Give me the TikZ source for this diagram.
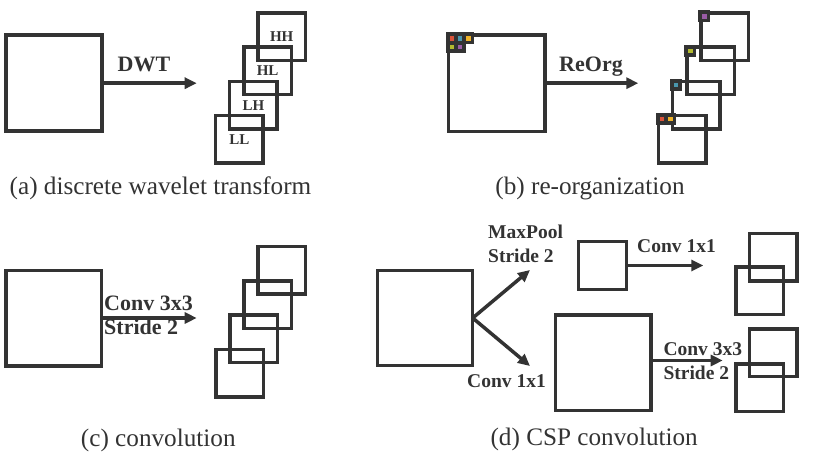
\documentclass[tikz,border=0pt]{standalone}
\usepackage{fontspec}
\setmainfont{Liberation Serif}
\usetikzlibrary{arrows.meta,calc}
\definecolor{ink}{HTML}{333333}
\definecolor{dred}{HTML}{D9533A}
\definecolor{dteal}{HTML}{4A97AE}
\definecolor{dyel}{HTML}{F0B429}
\definecolor{dolive}{HTML}{B3BB2E}
\definecolor{dpurp}{HTML}{9A5CA6}
\newcommand\dotbg[3]{\fill[ink] ($(#1)+(-2.5+8.3*#2,-2.5+8.3*#3)$) rectangle +(12,12);}
\newcommand\dotfg[4]{\fill[#4] ($(#1)+(1.3+8.3*#2,1.3+8.3*#3)$) rectangle +(4.4,4.4);}
\begin{document}
\begin{tikzpicture}[x=1pt,y=-1pt,
  sq/.style={draw=ink, line width=3.5pt, rectangle, inner sep=0pt, outer sep=0pt, minimum size=#1},
  arr/.style={draw=ink, line width=3.5pt, -{Triangle[length=12pt,width=11pt]}},
  lab/.style={font=\fontsize{22}{24}\selectfont\bfseries, text=ink, inner sep=0pt},
  labs/.style={font=\fontsize{19.5}{24}\selectfont\bfseries, text=ink, inner sep=0pt},
  hl/.style={font=\fontsize{15}{18}\selectfont\bfseries, text=ink, inner sep=0pt},
  captext/.style={font=\fontsize{25.2}{30}\selectfont, text=ink, inner sep=0pt}]
\useasboundingbox (0,0) rectangle (814,457);
% ---------- (a)
\node[sq=96] (a0) at (53.8,83.2) {};
\node[sq=47.5] (a1) at (239.3,139.5) {};
\node[sq=47.5] (a2) at (253.4,105.2) {};
\node[sq=47.5] (a3) at (267.6,71.0) {};
\node[sq=47.5] (a4) at (281.7,36.7) {};
\node[hl] (tll) at (a1) {LL};
\node[hl] (tlh) at (a2) {LH};
\node[hl] (thl) at (a3) {HL};
\node[hl] (thh) at (a4) {HH};
\coordinate (ta) at (196.7,83.2);
\draw[arr] (a0.east) -- (ta);
\node[lab, anchor=base] (tdwt) at (144,71.7) {DWT};
\node[captext, anchor=base] (capa) at (160.5,195) {(a) discrete wavelet transform};
% ---------- (b)
\node[sq=96.5] (b0) at (496.5,83.2) {};
\node[sq=47.5] (b1) at (682.3,139.5) {};
\node[sq=47.5] (b2) at (696.4,105.2) {};
\node[sq=47.5] (b3) at (710.6,71.0) {};
\node[sq=47.5] (b4) at (724.7,36.7) {};
\dotbg{b0.north west}{0}{0}\dotbg{b0.north west}{1}{0}\dotbg{b0.north west}{2}{0}
\dotbg{b0.north west}{0}{1}\dotbg{b0.north west}{1}{1}
\dotfg{b0.north west}{0}{0}{dred}\dotfg{b0.north west}{1}{0}{dteal}\dotfg{b0.north west}{2}{0}{dyel}
\dotfg{b0.north west}{0}{1}{dolive}\dotfg{b0.north west}{1}{1}{dpurp}
\dotbg{b1.north west}{0}{0}\dotbg{b1.north west}{1}{0}
\dotfg{b1.north west}{0}{0}{dred}\dotfg{b1.north west}{1}{0}{dyel}
\dotbg{b2.north west}{0}{0}\dotfg{b2.north west}{0}{0}{dteal}
\dotbg{b3.north west}{0}{0}\dotfg{b3.north west}{0}{0}{dolive}
\dotbg{b4.north west}{0}{0}\dotfg{b4.north west}{0}{0}{dpurp}
\coordinate (tb) at (638.3,83.2);
\draw[arr] (b0.east) -- (tb);
\node[lab, anchor=base] (treorg) at (591,71.7) {ReOrg};
\node[captext, anchor=base] (capb) at (590,195) {(b) re-organization};
% ---------- (c)
\node[sq=95.5] (c0) at (53.8,318) {};
\node[sq=47.5] (c1) at (239.5,373) {};
\node[sq=47.5] (c2) at (253.6,338.8) {};
\node[sq=47.5] (c3) at (267.7,304.6) {};
\node[sq=47.5] (c4) at (281.8,270.4) {};
\coordinate (tc) at (196.7,318);
\draw[arr] (c0.east) -- (tc);
\node[lab, anchor=base west] (tc1) at (104,310) {Conv 3x3};
\node[lab, anchor=base west] (tc2) at (104,334) {Stride 2};
\node[captext, anchor=base] (capc) at (158.3,446.5) {(c) convolution};
% ---------- (d)
\node[sq=95] (d0) at (425.2,318) {};
\node[sq=48] (ds) at (602.5,265.5) {};
\node[sq=95.5] (dl) at (603,362.5) {};
\node[sq=47.5] (da1) at (773,257.2) {};
\node[sq=47.5] (db1) at (759.5,290.8) {};
\node[sq=47.5] (da2) at (773,352.5) {};
\node[sq=47.5] (db2) at (759.5,387.5) {};
\coordinate (tdu) at (530,270);
\coordinate (tdd) at (530,366);
\coordinate (tds) at (703.3,265.5);
\coordinate (tdl) at (722.7,360.5);
\draw[arr] (d0.east) -- (tdu);
\draw[arr] (d0.east) -- (tdd);
\draw[arr] (ds.east) -- (tds);
\draw[arr] ([yshift=2pt]dl.east) -- (tdl);
\node[labs, anchor=base west] (td1) at (488,238.7) {MaxPool};
\node[labs, anchor=base west] (td2) at (488,262.7) {Stride 2};
\node[labs, anchor=base west] (td3) at (467,387) {Conv 1x1};
\node[labs, anchor=base west] (td4) at (637,252.7) {Conv 1x1};
\node[labs, anchor=base west] (td5) at (663.3,355) {Conv 3x3};
\node[labs, anchor=base west] (td6) at (663.3,379.3) {Stride 2};
\node[captext, anchor=base] (capd) at (594.2,445) {(d) CSP convolution};
\end{tikzpicture}
\end{document}
